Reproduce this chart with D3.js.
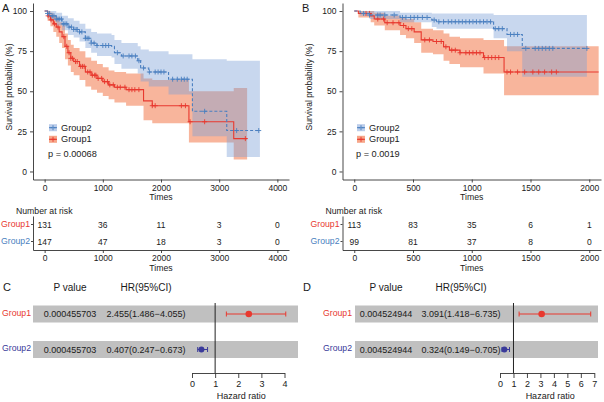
<!DOCTYPE html>
<html>
<head>
<meta charset="utf-8">
<script src="https://cdn.jsdelivr.net/npm/d3@7"></script>
<style>
body { margin: 0; background: #fff; }
text { font-family: "Liberation Sans", Arial, sans-serif; }
</style>
</head>
<body>
<svg width="604" height="402"></svg>
<script>
// ---- panel A : survival curves ----
const aT1 = [0, 50, 100, 150, 200, 250, 300, 350, 400, 450, 500, 600, 700, 800, 900, 1000, 1100, 1200, 1400, 1700, 1850, 2480, 3250];
const aS1 = [100, 97, 94.5, 92, 90, 87, 84, 78, 74, 70.5, 68.5, 65.5, 62, 60, 58, 56, 54, 52.5, 51, 44, 41, 31, 20.5];
const aLo1 = [100, 94, 90.5, 87, 84, 80, 77, 70, 66, 62, 60, 57, 53, 51, 49, 47, 45, 43, 41, 32, 30, 18, 7.5];
const aUp1 = [100, 100, 99, 97, 96, 93, 91, 86, 82, 79, 77, 75, 71, 69, 67, 65, 63, 62, 61, 58, 57, 50, 52];
const aEnd1 = 3480;
const aCens1 = [60, 110, 170, 230, 330, 380, 420, 450, 480, 530, 560, 620, 650, 680, 740, 780, 820, 860, 880, 920, 980, 1030, 1080, 1120, 1180, 1250, 1300, 1380, 1450, 1500, 1550, 1620, 1850, 1900, 2350, 2420, 2500, 2750, 3450];

const aT2 = [0, 50, 100, 200, 300, 400, 500, 600, 700, 800, 900, 1150, 1200, 1320, 1600, 1650, 1790, 2130, 2540, 3130];
const aS2 = [100, 98.5, 97, 95, 92, 90, 88.5, 87, 83, 80, 78.5, 78, 74, 72, 69, 64.5, 62, 57.5, 37.5, 25.5];
const aLo2 = [100, 96, 94, 91, 88, 85, 83.5, 81, 77, 74, 72, 71, 67, 64, 61, 56, 53, 48, 22, 9];
const aUp2 = [100, 100, 100, 99, 97, 95.5, 94, 92, 89, 87, 86, 85, 82, 80, 78, 76, 75, 73, 70, 69];
const aEnd2 = 3700;
const aCens2 = [50, 80, 130, 160, 200, 230, 260, 290, 320, 350, 380, 420, 460, 500, 540, 560, 600, 640, 700, 730, 760, 800, 850, 900, 1000, 1050, 1100, 1250, 1350, 1450, 1500, 1560, 1620, 1700, 1800, 1900, 1950, 2000, 2050, 2200, 2280, 2350, 2400, 2450, 2750, 3300, 3680];

const aTicks = [0, 1000, 2000, 3000, 4000];
const aRisk1 = [131, 36, 11, 3, 0];
const aRisk2 = [147, 47, 18, 3, 0];
const aPText = "p = 0.00068";

// ---- panel B : survival curves ----
const bT1 = [0, 35, 140, 170, 260, 390, 440, 510, 570, 670, 760, 810, 900, 1100, 1275];
const bS1 = [100, 98.5, 97, 95, 92.7, 91, 89, 87, 82, 81, 77.7, 75.6, 74, 71, 62];
const bLo1 = [100, 96, 93, 91, 88, 85, 83, 80, 74, 73, 69, 67, 65, 61, 47.5];
const bUp1 = [100, 100, 100, 99, 97, 96, 95, 93, 89, 88, 86, 84, 83, 82, 78];
const bEnd1 = 2080;
const bCens1 = [100, 130, 200, 250, 280, 330, 380, 420, 460, 490, 600, 640, 700, 740, 780, 830, 860, 900, 950, 980, 1010, 1040, 1070, 1110, 1140, 1170, 1200, 1230, 1300, 1330, 1390, 1450, 1520, 1570, 1620, 1680, 1720];

const bT2 = [0, 50, 130, 390, 660, 700, 1186, 1300, 1430];
const bS2 = [100, 98.5, 97.5, 96, 94.4, 93.3, 89, 85.4, 76.7];
const bLo2 = [100, 97, 95, 93, 90, 89, 83, 75, 59];
const bUp2 = [100, 100, 100, 99, 98.5, 98.5, 97.5, 97.5, 97.5];
const bEnd2 = 1980;
const bCens2 = [80, 130, 200, 220, 260, 340, 410, 440, 480, 510, 540, 580, 620, 680, 720, 760, 800, 830, 860, 890, 920, 950, 980, 1010, 1040, 1070, 1100, 1130, 1160, 1200, 1230, 1260, 1330, 1360, 1390, 1460, 1540, 1570, 1600, 1630, 1660, 1690, 1980];

const bTicks = [0, 500, 1000, 1500, 2000];
const bRisk1 = [113, 83, 35, 6, 1];
const bRisk2 = [99, 81, 37, 8, 0];
const bPText = "p = 0.0019";

// ---- forest plots C / D ----
const groups = ["Group1", "Group2"];
const cPval = ["0.000455703", "0.000455703"];
const cHR = [2.455, 0.407];
const cLow = [1.486, 0.247];
const cHigh = [4.055, 0.673];
const cTicks = [0, 1, 2, 3, 4];

const dPval = ["0.004524944", "0.004524944"];
const dHR = [3.091, 0.324];
const dLow = [1.418, 0.149];
const dHigh = [6.735, 0.705];
const dTicks = [0, 1, 2, 3, 4, 5, 6, 7];

const red = "#e8392f";
const blue = "#4a7fc0";
const redBand = "#f26b3a";
const blueBand = "#7d9fd6";
const navy = "#3a3a9a";
const axisCol = "#333";
const ink = "#1a1a1a";

const svg = d3.select("svg");
const fmtInt = d3.format("d");

const styleAxis = (g, size) => {
	g.attr("font-family", null);
	g.selectAll("path.domain").attr("stroke", axisCol).attr("stroke-width", 0.9);
	g.selectAll(".tick line").attr("stroke", axisCol).attr("stroke-width", 0.9);
	g.selectAll(".tick text").attr("font-size", size).attr("fill", ink);
};

const fmtHR = (h, l, u) => `${h.toFixed(3)}(${l.toFixed(3)}\u2212${u.toFixed(3)})`;

const kmPanel = (props) => {
	const { letter, x0, xDom, xRange, yAxisX, series, ticks, risk, pText, legendX } = props;
	const g = svg.append("g");
	const x = d3.scaleLinear().domain(xDom).range(xRange);
	const y = d3.scaleLinear().domain([-5, 105]).range([179.5, 3]);

	// confidence bands
	series.forEach((s) => {
		const pts = s.t.map((t, i) => ({ t, lo: s.lo[i], up: s.up[i] }));
		pts.push({ t: s.end, lo: s.lo[s.lo.length - 1], up: s.up[s.up.length - 1] });
		g.append("path")
			.attr("d", d3.area().curve(d3.curveStepAfter).x((d) => x(d.t)).y0((d) => y(d.lo)).y1((d) => y(d.up))(pts))
			.attr("fill", s.band)
			.attr("fill-opacity", s.op);
	});

	// survival lines + censor marks
	series.forEach((s) => {
		const pts = s.t.map((t, i) => ({ t, v: s.s[i] }));
		pts.push({ t: s.end, v: s.s[s.s.length - 1] });
		g.append("path")
			.attr("d", d3.line().curve(d3.curveStepAfter).x((d) => x(d.t)).y((d) => y(d.v))(pts))
			.attr("fill", "none")
			.attr("stroke", s.color)
			.attr("stroke-width", 1.1)
			.attr("stroke-dasharray", s.dash);
		g.selectAll(null)
			.data(s.cens)
			.enter()
			.append("path")
			.attr("d", (c) => {
				const v = s.s[d3.bisectRight(s.t, c) - 1];
				const px = x(c), py = y(v);
				return `M${px - 2.5},${py}h5M${px},${py - 2.5}v5`;
			})
			.attr("stroke", s.color)
			.attr("stroke-width", 0.9);
	});

	// axes
	g.append("g")
		.attr("transform", `translate(${yAxisX},0)`)
		.call(d3.axisLeft(y).tickValues([0, 25, 50, 75, 100]).tickFormat(fmtInt).tickSize(3).tickSizeOuter(0))
		.call(styleAxis, 8.5);
	g.append("g")
		.attr("transform", `translate(0,179.5)`)
		.call(d3.axisBottom(x).tickValues(ticks).tickFormat(fmtInt).tickSize(3).tickSizeOuter(0).tickPadding(2))
		.call(styleAxis, 8.5);

	g.append("text")
		.attr("transform", `translate(${x0 + 9},87) rotate(-90)`)
		.attr("text-anchor", "middle")
		.attr("dominant-baseline", "central")
		.attr("font-size", 8.5)
		.attr("fill", ink)
		.text("Survival probability (%)");
	g.append("text")
		.attr("x", (xRange[0] + xRange[1]) / 2)
		.attr("y", 200)
		.attr("text-anchor", "middle")
		.attr("font-size", 8.7)
		.attr("fill", ink)
		.text("Times");
	g.append("text")
		.attr("x", x0 + 2)
		.attr("y", 12)
		.attr("font-size", 11)
		.attr("fill", ink)
		.text(letter);

	// legend
	const leg = [series[1], series[0]];
	leg.forEach((s, i) => {
		const cy = 127.7 + i * 11.6;
		g.append("rect").attr("x", legendX).attr("y", cy - 3.5).attr("width", 8).attr("height", 7)
			.attr("fill", s.band).attr("fill-opacity", s.op + 0.1);
		g.append("line").attr("x1", legendX).attr("x2", legendX + 8).attr("y1", cy).attr("y2", cy)
			.attr("stroke", s.color).attr("stroke-width", 1).attr("stroke-dasharray", s.dash);
		g.append("path").attr("d", `M${legendX + 1.5},${cy}h5M${legendX + 4},${cy - 2.5}v5`)
			.attr("stroke", s.color).attr("stroke-width", 0.9);
		g.append("text").attr("x", legendX + 12).attr("y", cy).attr("dominant-baseline", "central")
			.attr("font-size", 9.2).attr("fill", ink).text(s.name);
	});
	g.append("text").attr("x", legendX - 1).attr("y", 154).attr("dominant-baseline", "central")
		.attr("font-size", 9.2).attr("fill", ink).text(pText);

	// risk table
	const ry = d3.scaleBand().domain(groups).range([216, 250]);
	g.append("text").attr("x", yAxisX - 17).attr("y", 211).attr("dominant-baseline", "central")
		.attr("font-size", 8.7).attr("fill", ink).text("Number at risk");
	const ya = g.append("g")
		.attr("transform", `translate(${yAxisX},0)`)
		.call(d3.axisLeft(ry).tickSize(2).tickSizeOuter(0).tickPadding(1))
		.call(styleAxis, 8.7);
	ya.selectAll(".tick text").attr("fill", (d) => (d === "Group1" ? red : blue));
	g.append("g")
		.attr("transform", `translate(0,250)`)
		.call(d3.axisBottom(x).tickValues(ticks).tickFormat(fmtInt).tickSize(3).tickSizeOuter(0).tickPadding(2))
		.call(styleAxis, 8.5);
	[risk[0], risk[1]].forEach((r, k) => {
		g.selectAll(null).data(r).enter().append("text")
			.attr("x", (d, i) => x(ticks[i]))
			.attr("y", ry(groups[k]) + ry.bandwidth() / 2)
			.attr("text-anchor", "middle")
			.attr("dominant-baseline", "central")
			.attr("font-size", 8.5)
			.attr("fill", ink)
			.text((d) => d);
	});
	g.append("text")
		.attr("x", (xRange[0] + xRange[1]) / 2)
		.attr("y", 271)
		.attr("text-anchor", "middle")
		.attr("font-size", 8.7)
		.attr("fill", ink)
		.text("Times");
};

kmPanel({
	letter: "A", x0: 0, xDom: [-200, 4200], xRange: [33, 289], yAxisX: 33, ticks: aTicks,
	risk: [aRisk1, aRisk2], pText: aPText, legendX: 49,
	series: [
		{ name: "Group1", t: aT1, s: aS1, lo: aLo1, up: aUp1, end: aEnd1, cens: aCens1, color: red, band: redBand, op: 0.5, dash: null },
		{ name: "Group2", t: aT2, s: aS2, lo: aLo2, up: aUp2, end: aEnd2, cens: aCens2, color: blue, band: blueBand, op: 0.42, dash: "3,2" },
	],
});

kmPanel({
	letter: "B", x0: 300, xDom: [-100, 2100], xRange: [342.5, 601], yAxisX: 342.5, ticks: bTicks,
	risk: [bRisk1, bRisk2], pText: bPText, legendX: 357,
	series: [
		{ name: "Group1", t: bT1, s: bS1, lo: bLo1, up: bUp1, end: bEnd1, cens: bCens1, color: red, band: redBand, op: 0.5, dash: null },
		{ name: "Group2", t: bT2, s: bS2, lo: bLo2, up: bUp2, end: bEnd2, cens: bCens2, color: blue, band: blueBand, op: 0.42, dash: "3,2" },
	],
});

const forestPanel = (props) => {
	const { letter, x0, pval, hr, low, high, ticks, xRange, barX, labelX, pX, hrX } = props;
	const g = svg.append("g");
	const x = d3.scaleLinear().domain([ticks[0], ticks[ticks.length - 1]]).range(xRange);
	const ry = d3.scalePoint().domain(groups).range([314, 349.5]);
	const cols = [red, navy];

	g.append("text").attr("x", x0 + 3).attr("y", 287).attr("dominant-baseline", "central").attr("font-size", 11).attr("fill", ink).text(letter);
	g.append("text").attr("x", pX).attr("y", 287).attr("text-anchor", "middle").attr("dominant-baseline", "central").attr("font-size", 10).attr("fill", ink).text("P value");
	g.append("text").attr("x", hrX).attr("y", 287).attr("text-anchor", "middle").attr("dominant-baseline", "central").attr("font-size", 10).attr("fill", ink).text("HR(95%CI)");

	g.selectAll(null).data(groups).enter().append("rect")
		.attr("x", barX[0]).attr("width", barX[1] - barX[0])
		.attr("y", (d) => ry(d) - 8.5).attr("height", 17)
		.attr("fill", "#c0c0c0");

	g.append("line").attr("x1", x(1)).attr("x2", x(1)).attr("y1", 303).attr("y2", 373)
		.attr("stroke", "#222").attr("stroke-width", 1);

	groups.forEach((grp, i) => {
		const cy = ry(grp);
		g.append("text").attr("x", labelX).attr("y", cy - 1.5).attr("dominant-baseline", "central")
			.attr("font-size", 8.7).attr("fill", cols[i]).text(grp);
		g.append("text").attr("x", pX).attr("y", cy).attr("text-anchor", "middle").attr("dominant-baseline", "central")
			.attr("font-size", 9).attr("fill", ink).text(pval[i]);
		g.append("text").attr("x", hrX).attr("y", cy).attr("text-anchor", "middle").attr("dominant-baseline", "central")
			.attr("font-size", 9).attr("fill", ink).text(fmtHR(hr[i], low[i], high[i]));
		g.append("path")
			.attr("d", `M${x(low[i])},${cy}H${x(high[i])}M${x(low[i])},${cy - 2.5}v5M${x(high[i])},${cy - 2.5}v5`)
			.attr("stroke", cols[i]).attr("stroke-width", 1).attr("fill", "none");
		g.append("circle").attr("cx", x(hr[i])).attr("cy", cy).attr("r", i === 0 ? 3.3 : 3).attr("fill", cols[i]);
	});

	g.append("g")
		.attr("transform", "translate(0,373)")
		.call(d3.axisBottom(x).tickValues(ticks).tickFormat(fmtInt).tickSize(5).tickSizeOuter(0).tickPadding(3))
		.call(styleAxis, 9);
	g.append("text").attr("x", (xRange[0] + xRange[1]) / 2 + 3).attr("y", 396).attr("text-anchor", "middle")
		.attr("dominant-baseline", "central").attr("font-size", 9).attr("fill", ink).text("Hazard ratio");
};

forestPanel({
	letter: "C", x0: 0, pval: cPval, hr: cHR, low: cLow, high: cHigh, ticks: cTicks,
	xRange: [192, 284.5], barX: [33, 298], labelX: 2, pX: 70, hrX: 146,
});
forestPanel({
	letter: "D", x0: 300, pval: dPval, hr: dHR, low: dLow, high: dHigh, ticks: dTicks,
	xRange: [500, 594.3], barX: [355, 598], labelX: 323, pX: 386, hrX: 461,
});
</script>
</body>
</html>
